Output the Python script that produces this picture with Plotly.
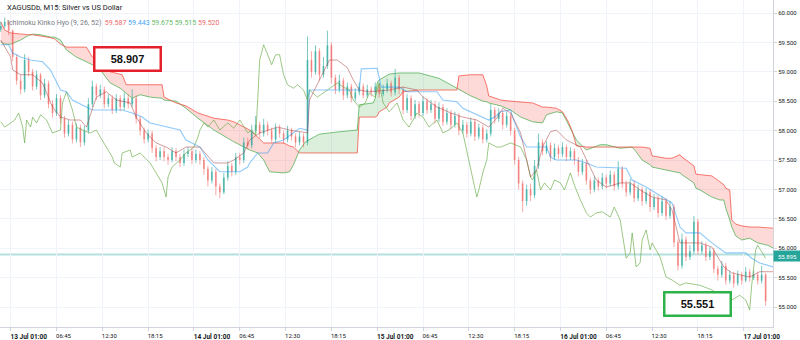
import plotly.graph_objects as go

# ---------------- data ----------------
title_text = "XAGUSDb, M15: Silver vs US Dollar"
indicator_name = "Ichimoku Kinko Hyo (9, 26, 52)"
indicator_values = ["59.587", "59.443", "59.675", "59.515", "59.520"]
indicator_colors = ["#ef6a6a", "#42a5f5", "#66bb6a", "#66bb6a", "#ef6a6a"]
high_label = "58.907"
low_label = "55.551"
last_price = 55.895

# bar numbers (15-min bars, 13 Jul 01:00 = 0), one candle per two bars
candle_idx = list(range(-5, 381, 2))
candle_open = [
    59.72,59.78,59.85,59.70,59.25,58.85,58.70,59.20,59.00,58.75,
    58.95,58.60,58.80,58.45,58.30,58.55,58.20,57.95,58.10,57.85,
    58.05,57.80,58.00,58.45,58.75,58.60,58.70,58.45,58.55,58.35,
    58.55,58.40,58.55,58.45,58.55,58.20,58.00,57.85,57.95,57.70,
    57.55,57.65,57.55,57.50,57.65,57.55,57.45,57.60,57.65,57.50,
    57.60,57.50,57.35,57.15,57.30,57.05,56.95,57.20,57.40,57.30,
    57.55,57.50,57.80,57.75,58.00,58.10,57.95,58.10,58.00,57.85,
    58.05,57.95,57.85,58.00,57.90,57.80,57.90,57.80,59.20,59.00,
    59.35,58.95,59.10,59.45,58.90,58.70,58.85,58.60,58.75,58.55,
    58.65,58.75,58.60,58.70,58.65,58.75,58.62,58.70,58.80,58.65,
    58.90,58.70,58.35,58.55,58.25,58.45,58.30,58.50,58.35,58.45,
    58.20,58.40,58.15,58.30,58.10,58.25,58.00,58.10,57.95,58.15,
    57.90,58.05,57.85,57.95,58.35,58.20,58.30,58.10,58.25,58.00,
    57.50,57.10,56.80,57.00,56.90,57.40,57.80,57.65,57.75,57.55,
    57.70,57.60,57.72,57.55,57.65,57.50,57.30,57.45,57.15,57.00,
    57.15,57.05,57.20,57.10,57.25,57.05,57.35,57.10,56.95,57.10,
    56.85,57.00,56.80,56.95,56.70,56.85,56.60,56.80,56.55,56.70,
    56.10,55.70,56.15,55.85,55.95,56.45,55.95,56.05,55.85,55.95,
    55.65,55.55,55.70,55.45,55.55,55.40,55.55,55.45,55.60,55.50,
    55.55,55.45,55.55]
candle_high = [
    59.85,59.92,59.88,59.72,59.30,58.95,59.30,59.25,59.05,59.02,
    58.98,58.88,58.85,58.52,58.62,58.60,58.25,58.18,58.15,58.12,
    58.10,58.08,58.55,58.85,58.80,58.78,58.75,58.62,58.60,58.62,
    58.60,58.65,58.62,58.70,58.60,58.25,58.05,58.02,58.00,57.75,
    57.72,57.72,57.60,57.72,57.70,57.60,57.68,57.72,57.70,57.68,
    57.65,57.55,57.40,57.38,57.35,57.10,57.28,57.48,57.45,57.62,
    57.62,57.88,57.88,58.10,58.25,58.15,58.20,58.15,58.05,58.12,
    58.10,58.00,58.08,58.05,57.95,57.98,57.95,59.60,59.35,59.45,
    59.40,59.25,59.70,59.50,58.95,58.95,58.90,58.82,58.80,58.72,
    58.82,58.80,58.78,58.75,58.82,58.80,58.78,58.88,58.85,59.05,
    58.95,58.75,58.62,58.60,58.52,58.50,58.58,58.55,58.52,58.50,
    58.48,58.45,58.38,58.35,58.32,58.30,58.18,58.15,58.22,58.20,
    58.12,58.10,58.02,58.45,58.40,58.38,58.35,58.32,58.30,58.05,
    57.55,57.15,57.08,57.10,57.50,57.95,57.85,57.82,57.80,57.78,
    57.75,57.80,57.76,57.72,57.70,57.55,57.52,57.50,57.20,57.22,
    57.20,57.28,57.25,57.32,57.30,57.48,57.40,57.15,57.18,57.15,
    57.08,57.05,57.02,57.00,56.92,56.90,56.88,56.85,56.80,56.75,
    56.15,56.25,56.20,56.05,56.55,56.50,56.12,56.10,56.02,56.00,
    55.70,55.78,55.75,55.62,55.60,55.62,55.60,55.68,55.65,55.62,
    55.60,55.70,55.58]
candle_low = [
    59.68,59.74,59.62,59.18,58.78,58.62,58.65,58.92,58.68,58.70,
    58.52,58.55,58.38,58.22,58.25,58.12,57.88,57.90,57.78,57.80,
    57.72,57.75,57.95,58.40,58.52,58.55,58.38,58.40,58.28,58.30,
    58.33,58.35,58.38,58.40,58.12,57.92,57.78,57.80,57.62,57.48,
    57.50,57.48,57.42,57.46,57.48,57.38,57.40,57.55,57.43,57.45,
    57.42,57.25,57.05,57.10,56.90,56.85,56.92,57.15,57.22,57.25,
    57.42,57.45,57.68,57.70,57.95,57.88,57.90,57.92,57.80,57.80,
    57.88,57.78,57.80,57.83,57.72,57.75,57.72,57.75,58.90,58.95,
    58.85,58.90,59.05,58.80,58.62,58.65,58.52,58.55,58.48,58.50,
    58.60,58.55,58.56,58.58,58.60,58.56,58.58,58.65,58.58,58.60,
    58.62,58.28,58.30,58.18,58.20,58.22,58.25,58.28,58.30,58.12,
    58.15,58.08,58.10,58.02,58.05,57.92,57.95,57.88,57.90,57.82,
    57.85,57.78,57.80,57.90,58.12,58.15,58.02,58.05,57.92,57.42,
    57.00,56.62,56.72,56.80,56.85,57.35,57.58,57.60,57.48,57.50,
    57.52,57.55,57.48,57.50,57.42,57.22,57.25,57.08,56.92,56.95,
    56.98,57.00,57.02,57.05,56.98,57.00,57.02,56.88,56.90,56.78,
    56.80,56.72,56.75,56.62,56.65,56.52,56.55,56.48,56.50,56.02,
    55.62,55.65,55.78,55.80,55.90,55.88,55.90,55.78,55.80,55.58,
    55.45,55.50,55.38,55.40,55.33,55.36,55.38,55.42,55.43,55.46,
    55.38,55.40,55.02]
candle_close = [
    59.78,59.85,59.70,59.25,58.85,58.70,59.20,59.00,58.75,58.95,
    58.60,58.80,58.45,58.30,58.55,58.20,57.95,58.10,57.85,58.05,
    57.80,58.00,58.45,58.75,58.60,58.70,58.45,58.55,58.35,58.55,
    58.40,58.55,58.45,58.55,58.20,58.00,57.85,57.95,57.70,57.55,
    57.65,57.55,57.50,57.65,57.55,57.45,57.60,57.65,57.50,57.60,
    57.50,57.35,57.15,57.30,57.05,56.95,57.20,57.40,57.30,57.55,
    57.50,57.80,57.75,58.00,58.10,57.95,58.10,58.00,57.85,58.05,
    57.95,57.85,58.00,57.90,57.80,57.90,57.80,59.20,59.00,59.35,
    58.95,59.10,59.45,58.90,58.70,58.85,58.60,58.75,58.55,58.65,
    58.75,58.60,58.70,58.65,58.75,58.62,58.70,58.80,58.65,58.90,
    58.70,58.35,58.55,58.25,58.45,58.30,58.50,58.35,58.45,58.20,
    58.40,58.15,58.30,58.10,58.25,58.00,58.10,57.95,58.15,57.90,
    58.05,57.85,57.95,58.35,58.20,58.30,58.10,58.25,58.00,57.50,
    57.10,56.80,57.00,56.90,57.40,57.80,57.65,57.75,57.55,57.70,
    57.60,57.72,57.55,57.65,57.50,57.30,57.45,57.15,57.00,57.15,
    57.05,57.20,57.10,57.25,57.05,57.35,57.10,56.95,57.10,56.85,
    57.00,56.80,56.95,56.70,56.85,56.60,56.80,56.55,56.70,56.10,
    55.70,56.15,55.85,55.95,56.45,55.95,56.05,55.85,55.95,55.65,
    55.55,55.70,55.45,55.55,55.40,55.55,55.45,55.60,55.50,55.55,
    55.45,55.55,55.10]

# Ichimoku leading spans (as displayed, already shifted forward)
span_idx = [-5,-3,0,5,9,11,15,20,22,25,28,33,38,41,45,50,55,56,58,61,
            65,70,76,77,83,88,94,102,109,112,120,124,127,130,137,140,142,145,148,155,
            165,174,175,182,183,184,185,189,190,195,197,205,215,224,225,231,237,239,240,246,
            251,256,262,267,269,274,277,280,282,284,289,296,299,306,312,314,317,321,322,329,
            332,336,337,343,344,346,352,356,358,359,361,362,364,367,371,375,380,383]
span_b = [59.85,59.71,59.66,59.64,59.63,59.63,59.61,59.58,59.56,59.47,
          59.42,59.42,59.42,59.25,59.12,59.00,58.96,58.95,58.78,58.78,
          58.78,58.78,58.78,58.57,58.47,58.42,58.30,58.21,58.18,58.15,
          58.01,57.89,57.79,57.79,57.79,57.74,57.72,57.62,57.62,57.62,
          57.62,57.62,58.23,58.23,58.23,58.25,58.32,58.40,58.47,58.57,
          58.66,58.69,58.69,58.69,58.93,58.95,58.95,58.76,58.59,58.52,
          58.50,58.49,58.47,58.40,58.40,58.38,58.32,58.15,57.98,57.74,
          57.72,57.72,57.72,57.72,57.72,57.72,57.72,57.70,57.57,57.53,
          57.53,57.59,57.55,57.40,57.26,57.25,57.23,57.13,57.08,57.02,
          56.99,56.48,56.41,56.38,56.36,56.36,56.34,56.34]
span_a = [59.51,59.47,59.47,59.54,59.62,59.64,59.63,59.59,59.59,59.54,
          59.37,59.25,59.17,59.12,59.03,58.81,58.72,58.69,58.64,58.55,
          58.61,58.57,58.55,58.52,58.50,58.38,58.21,58.01,57.87,57.81,
          57.67,57.62,57.50,57.30,57.28,57.30,57.42,57.67,57.81,57.94,
          57.98,58.01,58.44,58.47,58.55,58.81,58.86,58.95,58.96,58.98,
          58.98,58.98,58.89,58.72,58.69,58.59,58.50,58.49,58.47,58.42,
          58.35,58.23,58.15,58.13,58.27,58.32,58.30,58.11,57.96,57.84,
          57.67,57.76,57.76,57.70,57.72,57.64,57.50,57.42,57.38,57.33,
          57.31,57.28,57.25,57.11,57.02,56.99,56.87,56.82,56.82,56.68,
          56.48,56.36,56.21,56.14,56.17,56.09,56.05,56.00]

# Conversion line (Tenkan)
tenkan_idx = [-5,0,1,5,11,16,21,25,30,35,38,43,48,53,60,63,68,73,78,83,
              88,95,102,109,112,117,120,125,134,140,149,150,155,160,164,169,172,175,180,190,
              197,204,207,211,214,221,227,234,240,244,247,251,256,261,264,267,271,274,279,286,
              289,294,299,306,311,316,322,329,332,336,339,346,352,358,362,371,376,383]
tenkan_val = [59.54,59.25,59.03,58.95,58.95,58.81,58.40,58.23,58.18,58.18,
              58.06,58.57,58.66,58.52,58.47,58.23,57.96,57.79,57.72,57.62,
              57.72,57.72,57.45,57.45,57.50,57.62,57.84,57.96,58.06,58.01,
              57.96,58.52,58.86,59.20,59.20,59.07,58.86,58.69,58.66,58.69,
              58.74,58.69,58.57,58.47,58.40,58.30,58.23,58.18,58.06,58.21,
              58.38,58.30,57.96,57.21,57.33,57.72,57.98,58.01,57.84,57.72,
              57.50,57.16,57.04,57.11,57.11,56.99,56.87,56.82,56.65,56.09,
              56.09,56.09,56.02,55.68,55.58,55.51,55.60,55.60]

# Base line (Kijun)
kijun_idx = [-5,-1,1,5,10,16,20,22,25,28,31,38,41,56,61,66,70,85,88,95,
             99,105,115,119,120,124,129,132,137,145,149,150,175,176,184,186,195,199,214,217,
             224,227,237,240,243,246,251,252,256,259,269,271,274,284,289,294,309,312,319,332,
             336,339,346,352,359,369,372,376,383]
kijun_val = [59.46,59.46,59.32,59.25,59.20,59.17,59.03,58.89,58.69,58.66,
             58.52,58.40,58.35,58.35,58.30,58.23,58.13,58.01,57.84,57.72,
             57.50,57.30,57.30,57.38,57.45,57.62,57.62,57.79,57.84,58.04,
             58.01,58.69,58.69,59.05,59.06,58.74,58.74,58.66,58.66,58.52,
             58.49,58.38,58.23,58.18,58.23,58.32,58.35,58.23,57.89,57.72,
             57.72,57.55,57.50,57.50,57.45,57.38,57.36,57.16,57.04,56.77,
             56.36,56.26,56.26,56.09,55.92,55.92,55.83,55.75,55.68]

# Lagging span (Chikou)
chikou_idx = [-5,-3,0,2,4,6,7,8,10,11,
              13,15,18,21,25,26,28,31,33,36,
              40,43,45,48,51,52,55,56,60,61,
              65,70,73,76,78,79,81,85,88,92,
              94,95,97,99,102,105,109,112,115,119,
              121,123,124,125,127,128,129,131,133,135,
              137,139,142,144,147,149,150,154,159,164,
              167,170,172,175,178,180,183,185,187,190,
              194,197,200,204,207,210,214,217,220,224,
              227,230,232,234,235,237,239,240,244,246,
              251,256,259,261,262,264,266,268,271,273,
              276,278,281,283,286,289,291,294,297,301,
              303,306,307,309,311,312,313,314,316,317,
              319,321,322,326,329,332,336,339,346,352,
              356,359,362,366,369,371,372,374,375,377,
              379]
chikou_val = [58.15,58.06,58.13,58.18,58.30,58.06,57.79,58.18,58.06,58.23,
              58.13,58.27,58.18,57.96,58.01,58.47,58.66,58.35,58.06,58.01,
              57.96,58.01,57.89,57.72,57.55,57.45,57.38,57.62,57.67,57.55,
              57.62,57.45,57.28,57.11,56.87,57.21,57.38,57.50,57.62,57.72,
              57.89,58.01,58.13,58.06,58.18,58.01,58.13,58.04,58.18,57.96,
              58.01,57.92,58.52,59.20,59.46,59.37,59.29,59.12,59.29,59.29,
              58.95,58.78,58.72,58.78,58.69,58.52,58.69,58.57,58.69,58.81,
              58.74,58.69,58.52,58.40,58.47,58.64,58.57,58.81,58.47,58.32,
              58.47,58.18,58.06,58.30,58.23,58.06,58.18,57.96,58.01,58.13,
              57.96,57.50,57.16,56.87,56.99,57.28,57.50,57.79,57.72,57.72,
              57.79,57.72,57.50,57.21,57.16,57.33,56.99,57.11,56.99,57.16,
              57.11,56.99,57.28,57.07,56.82,56.60,56.53,56.60,56.62,56.53,
              56.70,56.48,56.26,55.83,55.92,56.26,55.97,55.68,55.75,56.14,
              56.31,55.97,56.09,55.85,55.51,55.46,55.37,55.41,55.37,55.29,
              55.20,55.03,55.12,55.20,55.12,54.95,55.37,55.97,56.05,55.93,
              55.83]

# time axis
grid_idx = [0, 23, 46, 69, 92, 115, 138, 161, 184, 207, 230, 253, 276, 299, 322, 345, 368]
grid_text = ["", "06:45", "12:30", "18:15", "", "06:45", "12:30", "18:15", "",
             "06:45", "12:30", "18:15", "", "06:45", "12:30", "18:15", ""]
date_idx = [0, 92, 184, 276, 368]
date_text = ["13 Jul 01:00", "14 Jul 01:00", "15 Jul 01:00", "16 Jul 01:00", "17 Jul 01:00"]
price_ticks = [55.0, 55.5, 56.0, 56.5, 57.0, 57.5, 58.0, 58.5, 59.0, 59.5, 60.0]

# ---------------- styles ----------------
UP = "rgba(38,166,154,0.62)"
DOWN = "rgba(239,83,80,0.5)"
FONT = "Roboto"

fig = go.Figure()

# ---- cloud fill ----
def cloud_runs(xs, a, b):
    runs = []
    pts = [(xs[0], a[0], b[0])]
    cur = 1 if a[0] >= b[0] else -1
    for j in range(1, len(xs)):
        s = 1 if a[j] >= b[j] else -1
        if s != cur:
            d0 = a[j - 1] - b[j - 1]
            d1 = a[j] - b[j]
            t = d0 / (d0 - d1) if d0 != d1 else 0.0
            xc = xs[j - 1] + t * (xs[j] - xs[j - 1])
            yc = a[j - 1] + t * (a[j] - a[j - 1])
            pts.append((xc, yc, yc))
            runs.append((cur, pts))
            pts = [(xc, yc, yc)]
            cur = s
        pts.append((xs[j], a[j], b[j]))
    runs.append((cur, pts))
    return runs

fills = {1: ([], []), -1: ([], [])}
for sgn, pts in cloud_runs(span_idx, span_a, span_b):
    fx, fy = fills[sgn]
    fx.extend([p[0] for p in pts] + [p[0] for p in reversed(pts)] + [None])
    fy.extend([p[1] for p in pts] + [p[2] for p in reversed(pts)] + [None])

fig.add_trace(go.Scatter(x=fills[1][0], y=fills[1][1], mode="lines", fill="toself",
                         fillcolor="rgba(76,175,80,0.2)", line=dict(width=0), hoverinfo="skip"))
fig.add_trace(go.Scatter(x=fills[-1][0], y=fills[-1][1], mode="lines", fill="toself",
                         fillcolor="rgba(244,67,54,0.2)", line=dict(width=0), hoverinfo="skip"))
fig.add_trace(go.Scatter(x=span_idx, y=span_a, mode="lines",
                         line=dict(color="rgba(76,175,80,0.75)", width=1)))
fig.add_trace(go.Scatter(x=span_idx, y=span_b, mode="lines",
                         line=dict(color="rgba(244,67,54,0.7)", width=1)))

# ---- candles ----
def segs(keys, lo, hi):
    xs, ys = [], []
    for k in keys:
        xs += [candle_idx[k], candle_idx[k], None]
        ys += [lo[k], hi[k], None]
    return xs, ys

n = len(candle_idx)
up_k = [k for k in range(n) if candle_close[k] >= candle_open[k]]
dn_k = [k for k in range(n) if candle_close[k] < candle_open[k]]
body_lo = [min(candle_open[k], candle_close[k]) for k in range(n)]
body_hi = [max(candle_open[k], candle_close[k]) for k in range(n)]
for keys, col in ((up_k, UP), (dn_k, DOWN)):
    wx, wy = segs(keys, candle_low, candle_high)
    fig.add_trace(go.Scatter(x=wx, y=wy, mode="lines", line=dict(color=col, width=1)))
    bx, by = segs(keys, body_lo, body_hi)
    fig.add_trace(go.Scatter(x=bx, y=by, mode="lines", line=dict(color=col, width=1.8)))

# ---- lines ----
fig.add_trace(go.Scatter(x=chikou_idx, y=chikou_val, mode="lines",
                         line=dict(color="rgba(104,170,70,0.65)", width=1)))
fig.add_trace(go.Scatter(x=kijun_idx, y=kijun_val, mode="lines",
                         line=dict(color="rgba(33,150,243,0.5)", width=1.1)))
fig.add_trace(go.Scatter(x=tenkan_idx, y=tenkan_val, mode="lines",
                         line=dict(color="rgba(170,60,60,0.5)", width=1)))

# dummy trace for the date-label axis
fig.add_trace(go.Scatter(x=[None], y=[None], xaxis="x2", yaxis="y", mode="lines"))

# ---- last price line ----
fig.add_shape(type="line", xref="paper", x0=0, x1=1, yref="y", y0=last_price, y1=last_price,
              line=dict(color="rgba(38,166,154,0.35)", width=2), layer="below")

annotations = [
    dict(text=title_text, xref="paper", yref="paper", x=0.006, y=0.978, xanchor="left",
         yanchor="middle", showarrow=False, font=dict(family=FONT, size=7.5, color="#131722")),
    dict(text=indicator_name + "&nbsp;&nbsp;" + "&nbsp;".join(
        f"<span style='color:{c}'>{v}</span>" for v, c in zip(indicator_values, indicator_colors)),
         xref="paper", yref="paper", x=0.006, y=0.931, xanchor="left", yanchor="middle",
         showarrow=False, font=dict(family=FONT, size=7, color="#787b86")),
    dict(text=f"<b>{high_label}</b>", xref="paper", yref="paper", x=0.1643, y=0.821,
         xanchor="center", yanchor="middle", showarrow=False,
         font=dict(family="Liberation Sans", size=11, color="#111111"),
         bgcolor="white", bordercolor="#e3202b", borderwidth=2.5, borderpad=1, width=62, height=19),
    dict(text=f"<b>{low_label}</b>", xref="paper", yref="paper", x=0.9017, y=0.0703,
         xanchor="center", yanchor="middle", showarrow=False,
         font=dict(family="Liberation Sans", size=11, color="#111111"),
         bgcolor="white", bordercolor="#2db34a", borderwidth=2.5, borderpad=1, width=62, height=19),
    dict(text=f"{last_price:.3f}", xref="paper", yref="y", x=1.0, y=last_price,
         xanchor="left", yanchor="middle", yshift=-1.5, showarrow=False,
         font=dict(family=FONT, size=6, color="white"),
         bgcolor="#26a69a", borderpad=0.5, width=26, height=9),
]

x_lo, x_hi = -5.37, 382.7
fig.update_layout(
    width=800, height=340,
    margin=dict(l=0, r=27, t=0, b=13),
    paper_bgcolor="white", plot_bgcolor="white",
    showlegend=False, hovermode=False,
    annotations=annotations,
    xaxis=dict(range=[x_lo, x_hi], tickmode="array", tickvals=grid_idx, ticktext=grid_text,
               ticklabelshift=7, tickangle=0, showgrid=True, gridcolor="#f0f3fa", gridwidth=1,
               zeroline=False, showline=True, linecolor="#d1d4dc", linewidth=1,
               ticks="outside", ticklen=3, tickcolor="#d1d4dc",
               tickfont=dict(family=FONT, size=6, color="#131722")),
    xaxis2=dict(overlaying="x", matches="x", anchor="y", side="bottom", tickmode="array",
                tickvals=date_idx, ticktext=[f"<b>{t}</b>" for t in date_text],
                ticklabelshift=18, tickangle=0, showgrid=False, zeroline=False,
                showline=False, ticks="outside", ticklen=3, tickcolor="rgba(0,0,0,0)",
                tickfont=dict(family=FONT, size=6.5, color="#131722")),
    yaxis=dict(side="right", range=[54.66, 60.221], tickmode="array", tickvals=price_ticks,
               ticktext=[f"{v:.3f}" for v in price_ticks], showgrid=True, gridcolor="#f0f3fa",
               zeroline=False, showline=True, linecolor="#d1d4dc", linewidth=1,
               ticks="outside", ticklen=3, tickcolor="#d1d4dc",
               tickfont=dict(family=FONT, size=6, color="#131722")),
)

fig.write_html("out.html")
